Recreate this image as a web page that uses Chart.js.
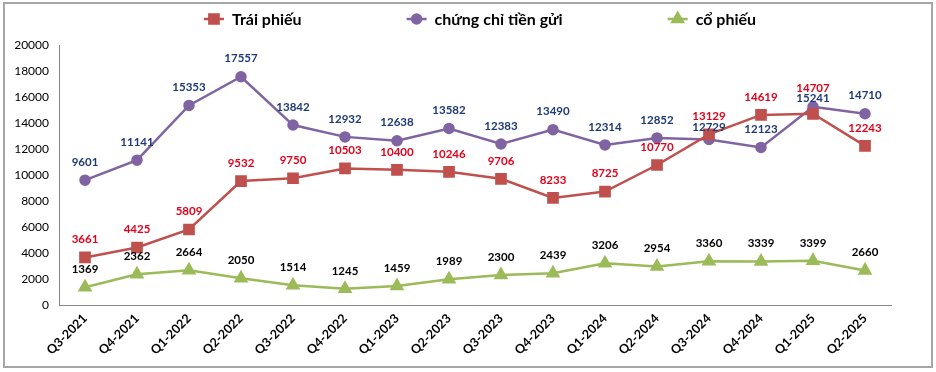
<!DOCTYPE html>
<html>
<head>
<meta charset="utf-8">
<script src="https://cdn.jsdelivr.net/npm/chart.js@4.4.1/dist/chart.umd.min.js"></script>
<style>
  html, body { margin: 0; padding: 0; background: #fff; }
</style>
</head>
<body>
<canvas id="chart" width="936" height="372"></canvas>
<script>
const quarters = ['Q3-2021','Q4-2021','Q1-2022','Q2-2022','Q3-2022','Q4-2022','Q1-2023','Q2-2023',
                  'Q3-2023','Q4-2023','Q1-2024','Q2-2024','Q3-2024','Q4-2024','Q1-2025','Q2-2025'];
const traiPhieu = [3661,4425,5809,9532,9750,10503,10400,10246,9706,8233,8725,10770,13129,14619,14707,12243];
const chungChi  = [9601,11141,15353,17557,13842,12932,12638,13582,12383,13490,12314,12852,12729,12123,15241,14710];
const coPhieu   = [1369,2362,2664,2050,1514,1245,1459,1989,2300,2439,3206,2954,3360,3339,3399,2660];
const seriesNames = ['Trái phiếu', 'chứng chỉ tiền gửi', 'cổ phiếu'];

const FONT = 'Lato, "Open Sans", sans-serif';

// frame around the whole picture
const framePlugin = {
  id: 'frame',
  beforeDraw(chart) {
    const ctx = chart.ctx;
    ctx.save();
    ctx.fillStyle = '#fff';
    ctx.fillRect(0, 0, chart.width, chart.height);
    ctx.strokeStyle = '#a6a6a6';
    ctx.lineWidth = 2;
    ctx.strokeRect(4, 3, 928, 364);
    ctx.restore();
  }
};

// value labels above every point
const valueLabels = {
  id: 'valueLabels',
  afterDatasetsDraw(chart, args, opts) {
    const ctx = chart.ctx;
    ctx.save();
    ctx.font = 'bold 11.5px ' + FONT;
    ctx.textAlign = 'center';
    ctx.textBaseline = 'middle';
    chart.data.datasets.forEach((ds, di) => {
      const meta = chart.getDatasetMeta(di);
      const extra = (opts.offsets && opts.offsets[di]) || {};
      meta.data.forEach((pt, i) => {
        const off = extra[i] !== undefined ? extra[i] : 18;
        ctx.fillStyle = opts.colors[di];
        ctx.fillText(ds.data[i], pt.x, pt.y - off);
      });
    });
    ctx.restore();
  }
};

// legend: line + marker, then name
const lineLegend = {
  id: 'lineLegend',
  afterDraw(chart, args, opts) {
    const ctx = chart.ctx;
    ctx.save();
    ctx.font = 'bold 16px ' + FONT;
    ctx.textBaseline = 'middle';
    const sw = 20, tg = 8, gap = opts.gap;
    const items = chart.data.datasets.map(ds => ({ds, w: sw + tg + ctx.measureText(ds.label).width}));
    const total = items.reduce((a, it) => a + it.w, 0) + gap * (items.length - 1);
    let x = opts.centerX - total / 2;
    const y = opts.y;
    items.forEach(({ds, w}) => {
      ctx.strokeStyle = ds.borderColor;
      ctx.lineWidth = 2.5;
      ctx.beginPath();
      ctx.moveTo(x, y);
      ctx.lineTo(x + sw, y);
      ctx.stroke();
      Chart.helpers.drawPoint(ctx, {pointStyle: ds.pointStyle, radius: ds.pointRadius, borderWidth: 1},
        x + sw / 2, y);
      ctx.fillStyle = ds.pointBackgroundColor;
      ctx.fill();
      ctx.fillStyle = '#000';
      ctx.fillText(ds.label, x + sw + tg, y + 1);
      x += w + gap;
    });
    ctx.restore();
  }
};

const mk = (label, data, color, style, r) => ({
  label, data,
  borderColor: color, backgroundColor: color,
  pointBackgroundColor: color, pointBorderColor: color,
  pointStyle: style, pointRadius: r, pointHoverRadius: r,
  borderWidth: 2.5, tension: 0
});

new Chart(document.getElementById('chart').getContext('2d'), {
  type: 'line',
  data: {
    labels: quarters,
    datasets: [
      mk(seriesNames[0], traiPhieu, '#c0504d', 'rect', 6.5),
      mk(seriesNames[1], chungChi, '#8064a2', 'circle', 4.5),
      mk(seriesNames[2], coPhieu, '#9bbb59', 'triangle', 6)
    ]
  },
  options: {
    responsive: false,
    animation: false,
    layout: { padding: { left: 5, right: 45, top: 45, bottom: 5 } },
    plugins: {
      legend: { display: false },
      tooltip: { enabled: false },
      valueLabels: {
        colors: ['#e3001b', '#1f3a78', '#000'],
        offsets: { 0: {14: 26}, 1: {12: 12, 14: 9} }
      },
      lineLegend: { gap: 105, centerX: 480, y: 19 }
    },
    scales: {
      x: {
        offset: true,
        grid: { display: false, drawTicks: false },
        border: { display: true, color: '#868686', width: 1 },
        ticks: {
          color: '#000', padding: 6,
          maxRotation: 45, minRotation: 45, autoSkip: false,
          font: { family: FONT, size: 12.5, weight: 'bold' }
        },
        afterFit: s => { s.height = 62; }
      },
      y: {
        min: 0, max: 20000,
        grid: { display: false, drawTicks: false },
        border: { display: true, color: '#868686', width: 1 },
        ticks: {
          stepSize: 2000, color: '#000', padding: 10,
          font: { family: FONT, size: 12 },
          callback: v => String(v)
        },
        afterFit: s => { s.width = 54; }
      }
    }
  },
  plugins: [framePlugin, valueLabels, lineLegend]
});
</script>
</body>
</html>
